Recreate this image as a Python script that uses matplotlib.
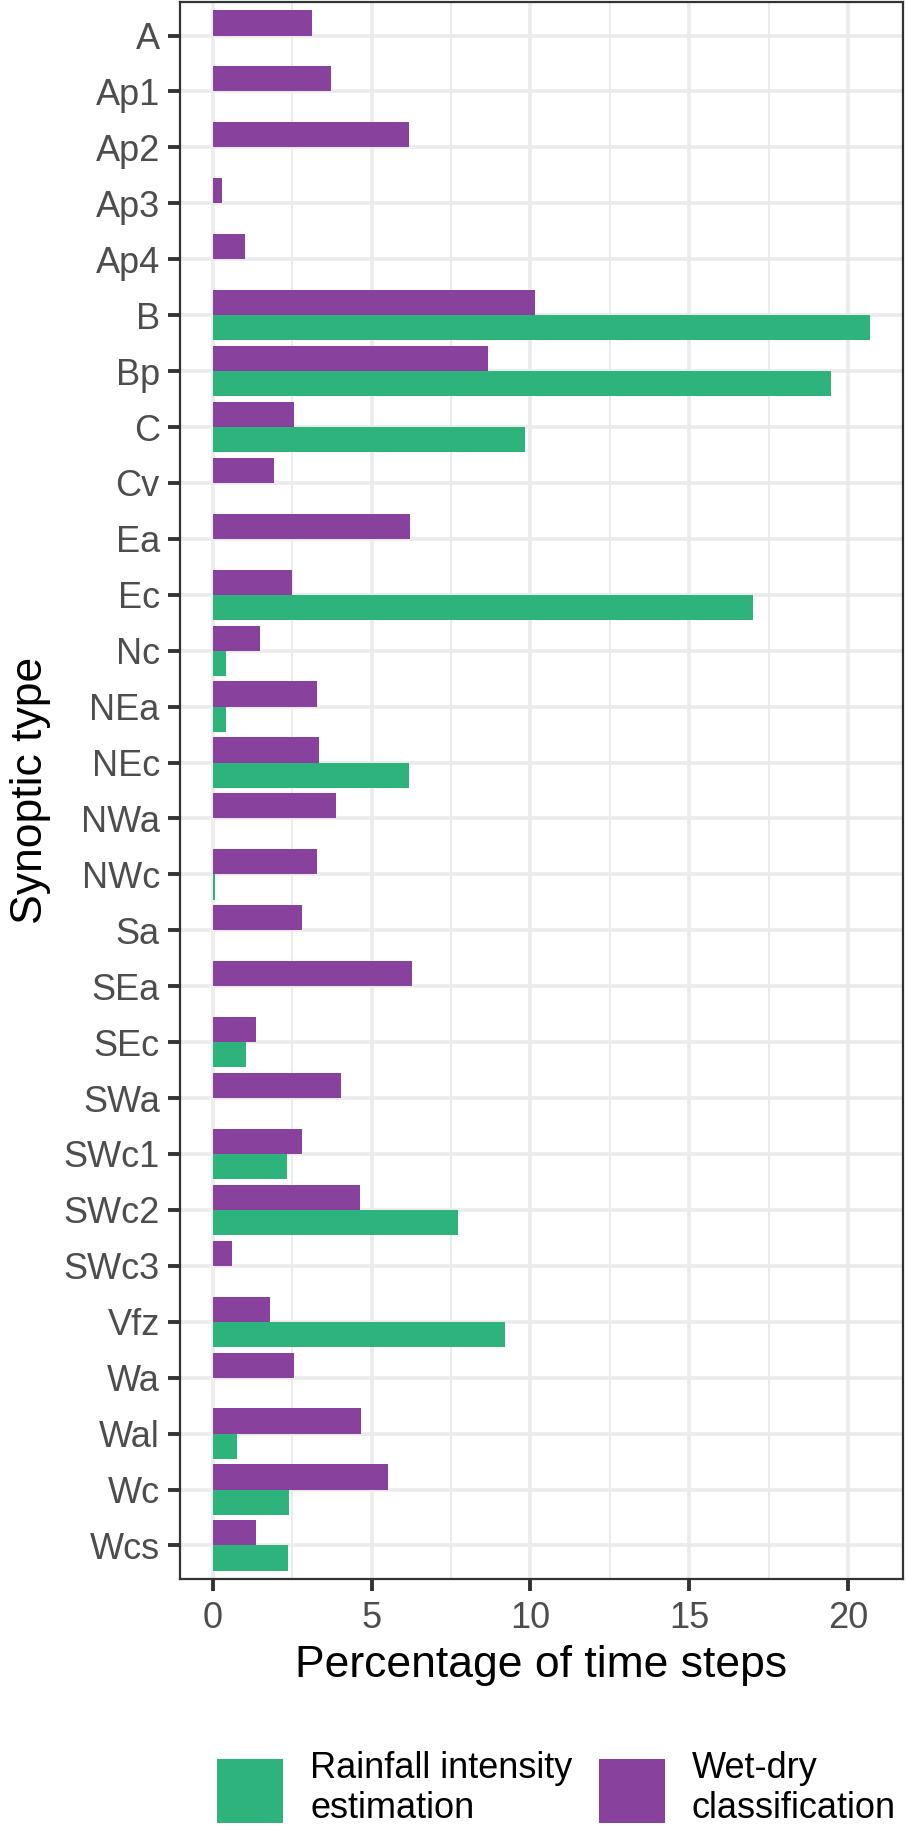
import numpy as np
import matplotlib
matplotlib.use("Agg")
import matplotlib.pyplot as plt
from matplotlib.ticker import MultipleLocator

plt.rcParams['font.family'] = ['Liberation Sans', 'DejaVu Sans']

# synoptic types, top to bottom
types = ['A', 'Ap1', 'Ap2', 'Ap3', 'Ap4', 'B', 'Bp', 'C', 'Cv', 'Ea', 'Ec',
         'Nc', 'NEa', 'NEc', 'NWa', 'NWc', 'Sa', 'SEa', 'SEc', 'SWa', 'SWc1',
         'SWc2', 'SWc3', 'Vfz', 'Wa', 'Wal', 'Wc', 'Wcs']

# percentage of time steps, wet-dry classification
wet_dry = [3.13, 3.73, 6.18, 0.29, 1.00, 10.16, 8.65, 2.54, 1.94, 6.21, 2.48,
           1.48, 3.27, 3.35, 3.89, 3.29, 2.82, 6.27, 1.35, 4.02, 2.82,
           4.62, 0.60, 1.79, 2.54, 4.67, 5.52, 1.35]

# percentage of time steps, rainfall intensity estimation
rain_int = [0, 0, 0, 0, 0, 20.70, 19.46, 9.84, 0, 0, 17.02,
            0.41, 0.41, 6.18, 0, 0.06, 0, 0, 1.03, 0, 2.35,
            7.71, 0, 9.19, 0, 0.75, 2.41, 2.38]

green = '#2EB37C'
purple = '#88419D'
dark = '#333333'

fig = plt.figure(figsize=(9.06, 18.3), dpi=100)
ax = fig.add_axes([180/906, 1 - 1579/1830, 723/906, 1577/1830])

y = np.arange(len(types))
w = 0.45
b1 = ax.barh(y + w/2, rain_int, height=w, color=green, zorder=3,
             label='Rainfall intensity\nestimation')
b2 = ax.barh(y - w/2, wet_dry, height=w, color=purple, zorder=3,
             label='Wet-dry\nclassification')

ax.set_xlim(-1.035, 21.735)
ax.set_ylim(len(types) - 1 + 0.6, -0.6)
ax.set_yticks(y)
ax.set_yticklabels(types)
ax.xaxis.set_major_locator(MultipleLocator(5))
ax.xaxis.set_minor_locator(MultipleLocator(2.5))

ax.grid(True, which='major', color='#EBEBEB', linewidth=2.6, zorder=0)
ax.grid(True, which='minor', axis='x', color='#EBEBEB', linewidth=1.4, zorder=0)
ax.set_axisbelow(True)

for s in ax.spines.values():
    s.set_color(dark)
    s.set_linewidth(1.6)
    s.set_zorder(5)

ax.tick_params(axis='both', which='major', length=8.5, width=2.8, color=dark,
               labelsize=26, labelcolor='#4D4D4D')
ax.tick_params(axis='x', pad=7)
ax.tick_params(axis='y', pad=6)
ax.tick_params(which='minor', length=0)

ax.set_xlabel('Percentage of time steps', fontsize=32, color='black')
ax.set_ylabel('Synoptic type', fontsize=32, color='black')
ax.xaxis.set_label_coords(0.5, -0.042)
ax.yaxis.set_label_coords(-0.178, 0.5)

fig.legend(handles=[b1, b2], loc='upper left',
           bbox_to_anchor=(217/906, 1 - 1751/1830), ncol=2, frameon=False,
           fontsize=26, handlelength=1.83, handleheight=2.35,
           handletextpad=0.75, columnspacing=0.72, borderpad=0,
           borderaxespad=0, labelspacing=0)

fig.savefig('out.png', dpi=100)
